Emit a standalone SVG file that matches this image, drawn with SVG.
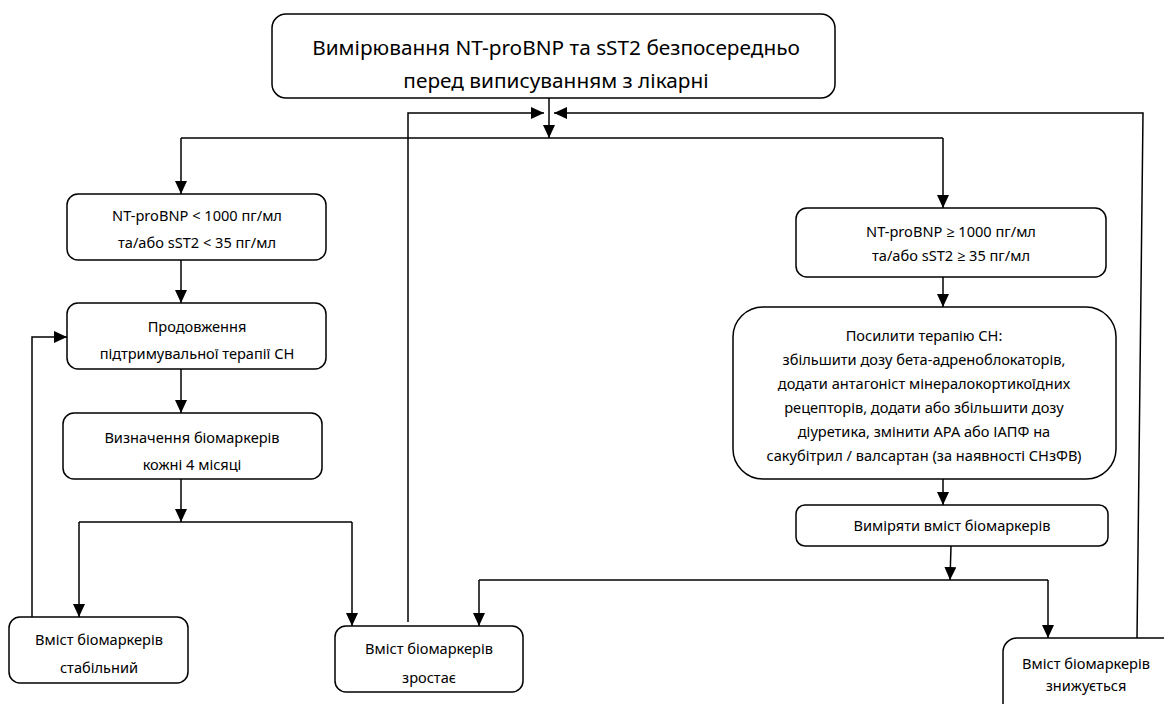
<svg xmlns="http://www.w3.org/2000/svg" width="1164" height="704" viewBox="0 0 1164 704">
<style>
.box{fill:#fff;stroke:#000;stroke-width:1.5}
.t{font-family:"Noto Sans","Open Sans","DejaVu Sans",sans-serif;font-size:14.6px;fill:#000;text-anchor:middle;dominant-baseline:central}
.tl{font-family:"Noto Sans","Open Sans","DejaVu Sans",sans-serif;font-size:20.8px;fill:#000;text-anchor:middle;dominant-baseline:central}
.c{fill:none;stroke:#000;stroke-width:1.5}
</style>
<defs>
<marker id="ah" markerUnits="userSpaceOnUse" markerWidth="14" markerHeight="12" refX="13" refY="6" orient="auto">
<path d="M0,0 L13,6 L0,12 z" fill="#000"/>
</marker>
</defs>
<rect width="1164" height="704" fill="#fff"/>
<g id="connectors">
<path class="c" d="M549,98 V138" marker-end="url(#ah)"/>
<path class="c" d="M181,138 H943"/>
<path class="c" d="M181,138 V194" marker-end="url(#ah)"/>
<path class="c" d="M943,138 V208" marker-end="url(#ah)"/>
<path class="c" d="M408,622 V113 H544" marker-end="url(#ah)"/>
<path class="c" d="M1137,638 L1143,113 H554" marker-end="url(#ah)"/>
<path class="c" d="M181,260 V303" marker-end="url(#ah)"/>
<path class="c" d="M181,369 V413" marker-end="url(#ah)"/>
<path class="c" d="M181,479 V522" marker-end="url(#ah)"/>
<path class="c" d="M79,522 H352"/>
<path class="c" d="M79,522 V617" marker-end="url(#ah)"/>
<path class="c" d="M352,522 V626" marker-end="url(#ah)"/>
<path class="c" d="M32,617 V337 H67" marker-end="url(#ah)"/>
<path class="c" d="M943,277 V307" marker-end="url(#ah)"/>
<path class="c" d="M943,479 V505" marker-end="url(#ah)"/>
<path class="c" d="M951,546 L950,580" marker-end="url(#ah)"/>
<path class="c" d="M479,580 H1048"/>
<path class="c" d="M479,580 V626" marker-end="url(#ah)"/>
<path class="c" d="M1048,580 V638" marker-end="url(#ah)"/>
</g>
<g id="n-top">
<rect class="box" x="272" y="14" width="563" height="84" rx="14"/>
<text class="tl" x="556" y="47">Вимірювання NT-proBNP та sST2 безпосередньо</text>
<text class="tl" x="556" y="80">перед виписуванням з лікарні</text>
</g>
<g id="n-low">
<rect class="box" x="67" y="194" width="259" height="66" rx="11"/>
<text class="t" x="197" y="215">NT-proBNP &lt; 1000 пг/мл</text>
<text class="t" x="197" y="242">та/або sST2 &lt; 35 пг/мл</text>
</g>
<g id="n-continue">
<rect class="box" x="67" y="303" width="259" height="66" rx="11"/>
<text class="t" x="197" y="326">Продовження</text>
<text class="t" x="197" y="353">підтримувальної терапії СН</text>
</g>
<g id="n-monitor">
<rect class="box" x="63" y="413" width="259" height="66" rx="11"/>
<text class="t" x="192" y="437">Визначення біомаркерів</text>
<text class="t" x="192" y="464">кожні 4 місяці</text>
</g>
<g id="n-stable">
<rect class="box" x="9" y="617" width="179" height="66" rx="11"/>
<text class="t" x="99" y="639">Вміст біомаркерів</text>
<text class="t" x="99" y="667">стабільний</text>
</g>
<g id="n-rise">
<rect class="box" x="335" y="626" width="188" height="66" rx="11"/>
<text class="t" x="429" y="648">Вміст біомаркерів</text>
<text class="t" x="429" y="677">зростає</text>
</g>
<g id="n-high">
<rect class="box" x="796" y="208" width="310" height="69" rx="11"/>
<text class="t" x="951" y="231">NT-proBNP ≥ 1000 пг/мл</text>
<text class="t" x="951" y="255">та/або sST2 ≥ 35 пг/мл</text>
</g>
<g id="n-intensify">
<rect class="box" x="733" y="307" width="383" height="172" rx="30"/>
<text class="t" x="924" y="335">Посилити терапію СН:</text>
<text class="t" x="924" y="359">збільшити дозу бета-адреноблокаторів,</text>
<text class="t" x="924" y="383">додати антагоніст мінералокортикоїдних</text>
<text class="t" x="924" y="407">рецепторів, додати або збільшити дозу</text>
<text class="t" x="924" y="431">діуретика, змінити АРА або ІАПФ на</text>
<text class="t" x="924" y="455">сакубітрил / валсартан (за наявності СНзФВ)</text>
</g>
<g id="n-measure">
<rect class="box" x="796" y="505" width="312" height="41" rx="9"/>
<text class="t" x="952" y="525">Виміряти вміст біомаркерів</text>
</g>
<g id="n-fall">
<rect class="box" x="1003" y="638" width="175" height="80" rx="14"/>
<text class="t" x="1086" y="663">Вміст біомаркерів</text>
<text class="t" x="1086" y="685">знижується</text>
</g>
</svg>
